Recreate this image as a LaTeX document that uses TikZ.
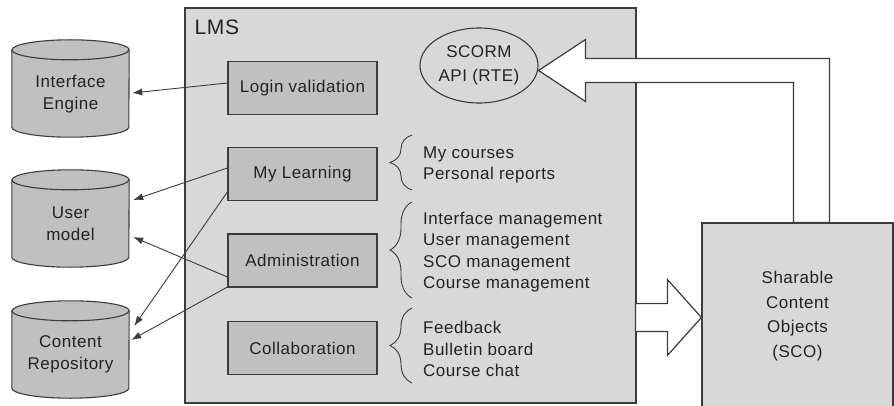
\documentclass[tikz,border=0pt]{standalone}
\usepackage{fontspec}
\setmainfont{Liberation Sans}[LetterSpace=3]
\usetikzlibrary{arrows.meta,decorations.pathreplacing,shapes.geometric}
\definecolor{panelgray}{RGB}{216,216,216}
\definecolor{modgray}{RGB}{192,192,192}
\definecolor{inkgray}{RGB}{60,60,60}
\definecolor{txtgray}{RGB}{35,35,35}

% cylinder body drawn around a named (invisible) node
\newcommand\drawstore[1]{%
  \draw[storeline, fill=modgray]
    ([yshift=-10pt]#1.north west) -- ([yshift=10pt]#1.south west)
    arc[start angle=180, end angle=360, x radius=58.5pt, y radius=10pt]
    -- ([yshift=-10pt]#1.north east)
    arc[start angle=0, end angle=180, x radius=58.5pt, y radius=10pt] -- cycle;
  \draw[storeline] ([yshift=-10pt]#1.north west)
    arc[start angle=180, end angle=360, x radius=58.5pt, y radius=10pt];
}

\begin{document}
\begin{tikzpicture}[x=1pt, y=1pt,
  every node/.style={font=\fontsize{17}{22}\selectfont, text=txtgray},
  panel/.style={draw=inkgray, line width=1.2pt, fill=panelgray},
  module/.style={draw=inkgray, line width=1.2pt, fill=modgray,
                 minimum width=149pt, minimum height=53pt},
  store/.style={minimum width=117pt, minimum height=97pt, inner sep=0pt},
  storeline/.style={draw=inkgray, line width=1.1pt},
  storetext/.style={align=center, inner sep=0pt},
  flow/.style={draw=inkgray, line width=0.9pt, -{Latex[length=10pt, width=7pt]}},
  hollow/.style={draw=inkgray, line width=1.2pt, fill=white, line join=miter},
  curly/.style={draw=inkgray, line width=0.9pt, decorate,
                decoration={brace, amplitude=22pt}},
  items/.style={align=left, anchor=west, inner sep=0pt,
                font=\fontsize{17}{21.5}\selectfont}
]
\useasboundingbox (0,0) rectangle (894,405);
\fill[white] (0,0) rectangle (894,405);

% LMS container
\node[panel, minimum width=451pt, minimum height=395pt] (lms) at (410.5,199.5) {};
\node[anchor=west, inner sep=0pt, font=\fontsize{21}{24}\selectfont]
  (lmslabel) at ([xshift=10pt, yshift=-20pt]lms.north west) {LMS};

% Sharable content objects
\node[panel, minimum width=191pt, minimum height=186pt, align=center,
      font=\fontsize{17}{24.5}\selectfont]
  (sco) at (797.5,89) {Sharable\\Content\\Objects\\(SCO)};

% SCORM runtime API
\node[draw=inkgray, line width=1.1pt, ellipse, minimum width=118pt,
      minimum height=75pt, inner sep=0pt, align=center,
      font=\fontsize{17}{24}\selectfont]
  (scorm) at (479,339.5) {SCORM\\API (RTE)};

% wide return arrow SCO -> SCORM API
\coordinate (tip) at ([yshift=-5pt]scorm.east);
\draw[hollow] (tip) -- ++(47,31) -- ++(0,-19)
  -| ([xshift=128pt]sco.north west) -- ([xshift=92pt]sco.north west)
  |- ([shift={(47,-12)}]tip) -- ++(0,-19) -- cycle;

% wide arrow LMS -> SCO
\draw[hollow] ([yshift=-1.5pt]sco.west) -- ++(-34,38) -- ++(0,-24) -- ++(-32,0)
  -- ++(0,-28) -- ++(32,0) -- ++(0,-24) -- cycle;

% LMS modules
\node[module] (login)  at (302.5,317)   {Login validation};
\node[module] (mylearn) at (302.5,231)  {My Learning};
\node[module] (admin)  at (302.5,144.5) {Administration};
\node[module] (collab) at (302.5,57)    {Collaboration};

% data stores
\node[store] (engine) at (70.5,316.5) {};
\node[store] (user)   at (70.5,186.5) {};
\node[store] (repo)   at (70.5,55.5)  {};
\drawstore{engine}
\drawstore{user}
\drawstore{repo}
\node[storetext] (enginetext) at ([yshift=-6pt]engine.center) {Interface\\Engine};
\node[storetext] (usertext)   at ([yshift=-5.5pt]user.center) {User\\model};
\node[storetext] (repotext)   at ([yshift=-5pt]repo.center)   {Content\\Repository};

% module feature lists
\draw[curly] (412,215) -- (412,270);
\draw[curly] (412,107) -- (412,203);
\draw[curly] (412,22)  -- (412,97);
\node[items] (mylist) at (423,240)
  {My courses\\Personal reports};
\node[items] (adminlist) at (423,153)
  {Interface management\\User management\\SCO management\\Course management};
\node[items] (collablist) at (423,56)
  {Feedback\\Bulletin board\\Course chat};

% data flows
\draw[flow] ([yshift=5pt]login.west)     -- ([shift={(3,-4.5)}]engine.east);
\draw[flow] ([yshift=6pt]mylearn.west)   -- ([shift={(4,18.5)}]user.east);
\draw[flow] ([yshift=-18pt]mylearn.west) -- ([shift={(5,23.5)}]repo.east);
\draw[flow] ([yshift=-16.5pt]admin.west) -- ([shift={(4,-18.5)}]user.east);
\draw[flow] ([yshift=-26.5pt]admin.west) -- ([shift={(2,9.5)}]repo.east);
\end{tikzpicture}
\end{document}
